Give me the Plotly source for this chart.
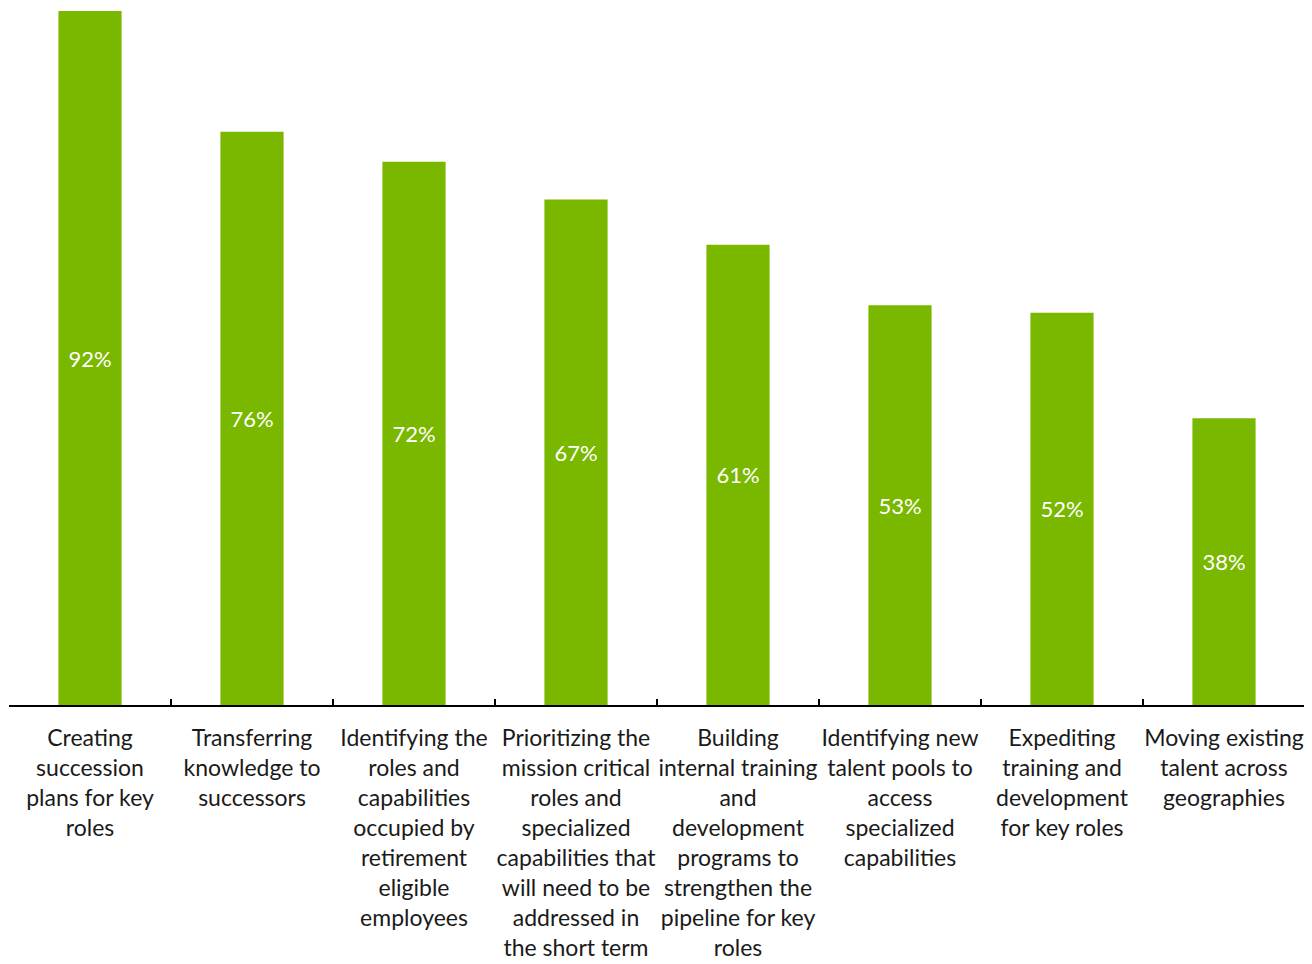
import plotly.graph_objects as go

categories = [
    "Creating<br>succession<br>plans for key<br>roles",
    "Transferring<br>knowledge to<br>successors",
    "Identifying the<br>roles and<br>capabilities<br>occupied by<br>retirement<br>eligible<br>employees",
    "Prioritizing the<br>mission critical<br>roles and<br>specialized<br>capabilities that<br>will need to be<br>addressed in<br>the short term",
    "Building<br>internal training<br>and<br>development<br>programs to<br>strengthen the<br>pipeline for key<br>roles",
    "Identifying new<br>talent pools to<br>access<br>specialized<br>capabilities",
    "Expediting<br>training and<br>development<br>for key roles",
    "Moving existing<br>talent across<br>geographies",
]
values = [92, 76, 72, 67, 61, 53, 52, 38]
labels = [f"{v}%" for v in values]

FONT = "Lato"

fig = go.Figure(
    go.Bar(
        x=categories,
        y=values,
        text=labels,
        textposition="inside",
        insidetextanchor="middle",
        textangle=0,
        textfont=dict(color="white", size=22, family=FONT),
        marker=dict(color="#7AB800", line=dict(width=0)),
        hoverinfo="skip",
    )
)

fig.update_layout(
    width=1304,
    height=956,
    margin=dict(l=1, r=7, t=3, b=259, autoexpand=False),
    paper_bgcolor="white",
    plot_bgcolor="white",
    bargap=0.61,
    showlegend=False,
    font=dict(family=FONT, size=23, color="#1a1a1a"),
    uniformtext=dict(minsize=8, mode="show"),
)

fig.update_xaxes(
    type="category",
    range=[-0.5, len(categories) - 0.5],
    showline=True,
    linecolor="black",
    linewidth=1.5,
    ticks="inside",
    tickson="boundaries",
    ticklen=6,
    tickcolor="black",
    tickwidth=1.5,
    tickangle=0,
    ticklabelstandoff=12,
    showgrid=False,
    zeroline=False,
    automargin=False,
    tickfont=dict(family=FONT, size=23, color="#1a1a1a"),
)
fig.update_yaxes(
    range=[0, 92],
    visible=False,
    showgrid=False,
    zeroline=False,
)

fig.write_html("out.html", config={"displayModeBar": False})
